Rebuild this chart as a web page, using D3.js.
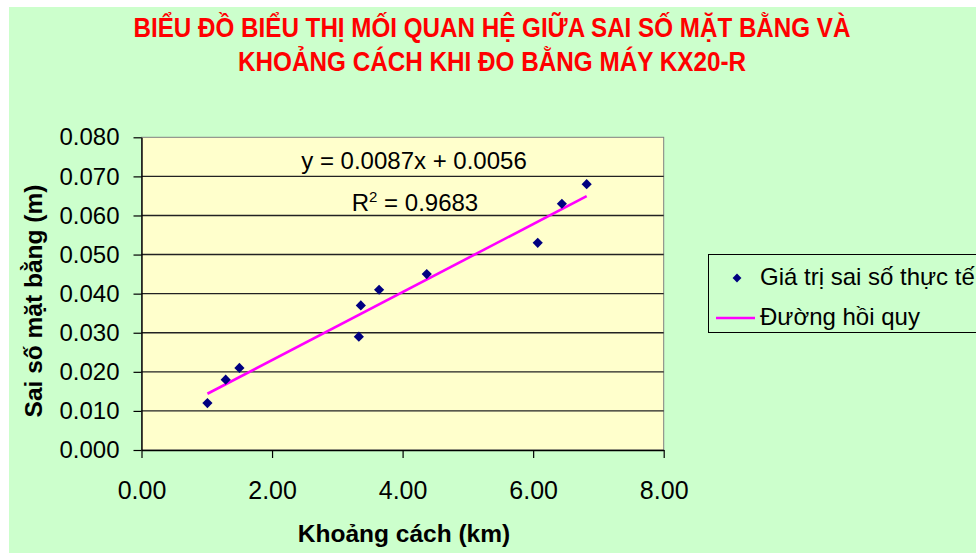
<!DOCTYPE html>
<html>
<head>
<meta charset="utf-8">
<script src="https://cdn.jsdelivr.net/npm/d3@7"></script>
<style>
  body { margin: 0; background: #fff; }
  svg { display: block; }
</style>
</head>
<body>
<div id="chart"></div>
<script>
// measured values (km, m)
var distances = [1.01, 1.29, 1.50, 3.33, 3.36, 3.64, 4.37, 6.07, 6.44, 6.82];
var errors = [0.012, 0.018, 0.021, 0.029, 0.037, 0.041, 0.045, 0.053, 0.063, 0.068];

// regression shown on chart
var slope = 0.0087;
var intercept = 0.0056;
var rSquared = "0.9683";

var xTicks = [0, 2, 4, 6, 8];
var yTicks = [0, 0.01, 0.02, 0.03, 0.04, 0.05, 0.06, 0.07, 0.08];

var titleLines = [
  "BIỂU ĐỒ BIỂU THỊ MỐI QUAN HỆ GIỮA SAI SỐ MẶT BẰNG VÀ",
  "KHOẢNG CÁCH KHI ĐO BẰNG MÁY KX20-R"
];
var legendLabels = ["Giá trị sai số thực tế", "Đường hồi quy"];

var width = 976, height = 553;
var font = "'Liberation Sans', Arial, sans-serif";

var svg = d3.select("#chart").append("svg")
  .attr("width", width)
  .attr("height", height)
  .style("font-family", font);

// background
svg.append("rect")
  .attr("x", 9).attr("y", 7)
  .attr("width", width - 9).attr("height", height - 7)
  .attr("fill", "#ccffcc");

// title
var titleWidths = [717, 508];
svg.selectAll("text.title")
  .data(titleLines)
  .enter()
  .append("text")
  .attr("class", "title")
  .attr("x", 492)
  .attr("y", function(d, i) { return 37 + i * 34; })
  .attr("text-anchor", "middle")
  .attr("textLength", function(d, i) { return titleWidths[i]; })
  .attr("lengthAdjust", "spacingAndGlyphs")
  .style("font-size", "27px")
  .style("font-weight", "bold")
  .style("fill", "#ff0000")
  .text(function(d) { return d; });

var x = d3.scaleLinear().domain([0, 8]).range([141.5, 663.7]);
var y = d3.scaleLinear().domain([0, 0.08]).range([450, 137.3]);

// plot area
svg.append("rect")
  .attr("x", x(0)).attr("y", y(0.08))
  .attr("width", x(8) - x(0)).attr("height", y(0) - y(0.08))
  .attr("fill", "#ffffcc")
  .attr("stroke", "#808080")
  .attr("stroke-width", 1);

// gridlines
svg.selectAll("line.grid")
  .data(yTicks.filter(function(d) { return d > 0 && d < 0.08; }))
  .enter()
  .append("line")
  .attr("class", "grid")
  .attr("x1", x(0)).attr("x2", x(8))
  .attr("y1", function(d) { return y(d); })
  .attr("y2", function(d) { return y(d); })
  .attr("stroke", "#222")
  .attr("stroke-width", 1.4);

// axes
var yAxis = svg.append("g")
  .attr("transform", "translate(" + x(0) + ",0)")
  .call(d3.axisLeft(y).tickValues(yTicks).tickFormat(d3.format(".3f"))
    .tickSize(8).tickPadding(14).tickSizeOuter(0));

var xAxis = svg.append("g")
  .attr("transform", "translate(0," + y(0) + ")")
  .call(d3.axisBottom(x).tickValues(xTicks).tickFormat(d3.format(".2f"))
    .tickSize(8).tickPadding(23).tickSizeOuter(0));

[yAxis, xAxis].forEach(function(ax) {
  ax.attr("font-family", font).attr("font-size", null);
  ax.select(".domain").attr("stroke", "#000").attr("stroke-width", 1.4);
  ax.selectAll(".tick line").attr("stroke", "#000").attr("stroke-width", 1.2);
  ax.selectAll(".tick text").style("font-size", "24px").attr("fill", "#000");
});
xAxis.selectAll(".tick text").style("font-size", "25px");

// axis titles
svg.append("text")
  .attr("x", 404).attr("y", 542)
  .attr("text-anchor", "middle")
  .style("font-size", "24.5px")
  .style("font-weight", "bold")
  .text("Khoảng cách (km)");

svg.append("text")
  .attr("transform", "translate(42,301) rotate(-90)")
  .attr("text-anchor", "middle")
  .style("font-size", "24.5px")
  .style("font-weight", "bold")
  .text("Sai số mặt bằng (m)");

// regression line
var xMin = d3.min(distances), xMax = d3.max(distances);
svg.append("line")
  .attr("x1", x(xMin)).attr("y1", y(slope * xMin + intercept))
  .attr("x2", x(xMax)).attr("y2", y(slope * xMax + intercept))
  .attr("stroke", "#ff00ff")
  .attr("stroke-width", 2.6);

// points
var diamond = d3.symbol().type(d3.symbolDiamond2).size(66);
svg.selectAll("path.pt")
  .data(distances)
  .enter()
  .append("path")
  .attr("class", "pt")
  .attr("d", diamond)
  .attr("transform", function(d, i) {
    return "translate(" + x(d) + "," + y(errors[i]) + ")";
  })
  .attr("fill", "#000080");

// equation labels
svg.append("text")
  .attr("x", 414).attr("y", 169)
  .attr("text-anchor", "middle")
  .style("font-size", "24px")
  .text("y = " + slope + "x + " + intercept);

var r2 = svg.append("text")
  .attr("x", 415).attr("y", 211)
  .attr("text-anchor", "middle")
  .style("font-size", "24px");
r2.append("tspan").text("R");
r2.append("tspan").attr("dy", -9).style("font-size", "15px").text("2");
r2.append("tspan").attr("dy", 9).text(" = " + rSquared);

// legend
var legend = svg.append("g");
legend.append("rect")
  .attr("x", 708.5).attr("y", 254.5)
  .attr("width", 290).attr("height", 78)
  .attr("fill", "#ccffcc")
  .attr("stroke", "#000")
  .attr("stroke-width", 1);

legend.append("path")
  .attr("d", d3.symbol().type(d3.symbolDiamond2).size(50))
  .attr("transform", "translate(737,278)")
  .attr("fill", "#000080");

legend.append("line")
  .attr("x1", 716).attr("x2", 755)
  .attr("y1", 318).attr("y2", 318)
  .attr("stroke", "#ff00ff")
  .attr("stroke-width", 2.6);

legend.selectAll("text")
  .data(legendLabels)
  .enter()
  .append("text")
  .attr("x", 760)
  .attr("y", function(d, i) { return 285 + i * 40; })
  .style("font-size", "24px")
  .text(function(d) { return d; });
</script>
</body>
</html>
